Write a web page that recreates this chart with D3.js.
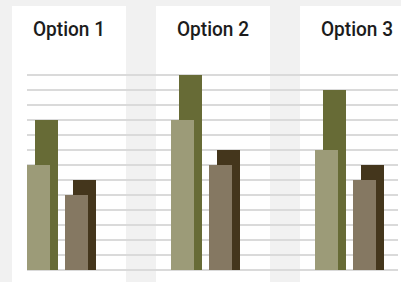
<!DOCTYPE html>
<html>
<head>
<meta charset="utf-8">
<script src="https://cdn.jsdelivr.net/npm/d3@7"></script>
<style>
  html, body { margin: 0; padding: 0; background: #f1f1f1; }
  svg { display: block; }
</style>
</head>
<body>
<div id="chart"></div>
<script>
var options = ["Option 1", "Option 2", "Option 3"];
var oliveFront = [7, 10, 8];
var oliveBack = [10, 13, 12];
var brownFront = [5, 7, 6];
var brownBack = [6, 8, 7];
var gridTicks = d3.range(0, 14);

var width = 401, height = 282;
var baseY = 270, topY = 75;

var svg = d3.select("#chart")
    .append("svg")
        .attr("width", width)
        .attr("height", height);

svg.append("rect")
    .attr("width", width)
    .attr("height", height)
    .attr("fill", "#f1f1f1");

// one white panel per option
var x = d3.scaleBand()
    .domain(options)
    .range([12, 414])
    .paddingInner(30 / 144)
    .paddingOuter(0);

// two bar pairs inside each panel
var inner = d3.scaleBand()
    .domain(["olive", "brown"])
    .range([0, 99])
    .paddingInner(7 / 38)
    .paddingOuter(15 / 38);

var y = d3.scaleLinear()
    .domain([0, 13])
    .range([baseY, topY]);

var barW = 23, shift = 8;

svg.selectAll(".panel")
    .data(options)
    .enter()
    .append("rect")
    .attr("class", "panel")
    .attr("x", d => x(d))
    .attr("y", 6)
    .attr("width", x.bandwidth())
    .attr("height", height - 6)
    .attr("fill", "#ffffff");

svg.selectAll(".grid")
    .data(gridTicks)
    .enter()
    .append("line")
    .attr("class", "grid")
    .attr("x1", 27)
    .attr("x2", 398)
    .attr("y1", d => y(d))
    .attr("y2", d => y(d))
    .attr("stroke", "#dadada")
    .attr("stroke-width", 2);

// condensed look: squeeze Roboto to the reference width
svg.selectAll(".title")
    .data(options)
    .enter()
    .append("text")
    .attr("class", "title")
    .attr("x", d => x(d) + x.bandwidth() / 2)
    .attr("y", 36)
    .attr("text-anchor", "middle")
    .attr("textLength", 72)
    .attr("lengthAdjust", "spacingAndGlyphs")
    .style("font-family", "Roboto, sans-serif")
    .style("font-weight", 500)
    .style("font-size", "21px")
    .attr("fill", "#1c1c1c")
    .text(d => d);

var series = [
    {key: "olive", values: oliveBack, dx: shift, color: "#676b36"},
    {key: "olive", values: oliveFront, dx: 0, color: "#9c9b78"},
    {key: "brown", values: brownBack, dx: shift, color: "#44361c"},
    {key: "brown", values: brownFront, dx: 0, color: "#857862"}
];

series.forEach(function(s) {
    svg.selectAll(null)
        .data(options)
        .enter()
        .append("rect")
        .attr("x", (d, i) => x(d) + inner(s.key) + s.dx)
        .attr("y", (d, i) => y(s.values[i]))
        .attr("width", barW)
        .attr("height", (d, i) => y(0) - y(s.values[i]))
        .attr("fill", s.color);
});
</script>
</body>
</html>
